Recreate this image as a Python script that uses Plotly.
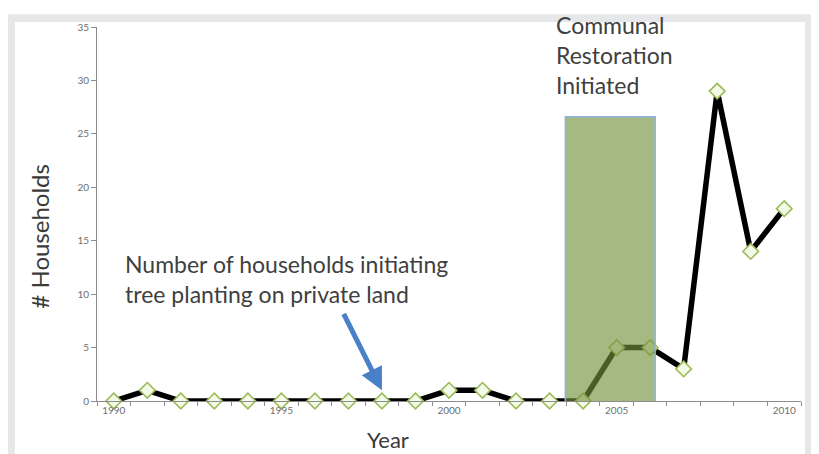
import plotly.graph_objects as go

years = list(range(1990, 2011))
households = [0, 1, 0, 0, 0, 0, 0, 0, 0, 0, 1, 1, 0, 0, 0, 5, 5, 3, 29, 14, 18]
x_tick_labels = [1990, 1995, 2000, 2005, 2010]
y_tick_values = [0, 5, 10, 15, 20, 25, 30, 35]
restoration_span = [2003.47, 2006.15]
restoration_height = [-0.3, 26.6]
arrow_target = [1998, 1.0]

FONT = "Lato"
OFF = 8  # page body margin offset
W, H = 819 - OFF, 454 - OFF
L, R, T, B = 97 - OFF, 18, 21 - OFF, 53
pw, ph = W - L - R, H - T - B


def px(x):
    # x in window pixels -> paper fraction
    return (x - OFF - L) / pw


def py(y):
    return (H - B - (y - OFF)) / ph


fig = go.Figure()
fig.add_trace(go.Scatter(
    x=years, y=households, mode="lines+markers",
    line=dict(color="black", width=5.5),
    marker=dict(symbol="diamond", size=12, color="#f4fae8",
                line=dict(color="#9bbb59", width=1.6)),
    cliponaxis=False, showlegend=False, hoverinfo="x+y",
))

shapes = [
    dict(type="rect", xref="paper", yref="paper", x0=px(0), x1=px(840),
         y0=py(8), y1=py(470), fillcolor="#e6e7e9", line=dict(width=0), layer="below"),
    dict(type="rect", xref="paper", yref="paper", x0=px(15), x1=px(805),
         y0=py(16), y1=py(470), fillcolor="white", line=dict(width=0), layer="below"),
    dict(type="rect", xref="x", yref="y",
         x0=restoration_span[0], x1=restoration_span[1],
         y0=restoration_height[0], y1=restoration_height[1],
         fillcolor="rgba(118,146,60,0.64)", line=dict(color="#8db3e2", width=1.5),
         layer="above"),
]

annotations = [
    dict(text="# Households", xref="paper", yref="paper", x=px(40), y=py(234),
         textangle=-90, showarrow=False, font=dict(family=FONT, size=24, color="#3a3a3a"),
         xanchor="center", yanchor="middle"),
    dict(text="Year", xref="paper", yref="paper", x=px(388), y=py(440),
         showarrow=False, font=dict(family=FONT, size=22, color="#3a3a3a"),
         xanchor="center", yanchor="middle"),
    dict(text="Communal<br>Restoration<br>Initiated", xref="paper", yref="paper",
         x=px(554), y=py(3), xanchor="left", yanchor="top", align="left",
         showarrow=False, font=dict(family=FONT, size=23, color="#404040")),
    dict(text="Number of households initiating<br>tree planting on private land",
         xref="paper", yref="paper", x=px(123), y=py(246), xanchor="left", yanchor="top",
         align="left", showarrow=False, font=dict(family=FONT, size=23, color="#404040")),
    dict(text="", x=arrow_target[0], y=arrow_target[1], xref="x", yref="y",
         showarrow=True, ax=-39, ay=-78, arrowhead=2, arrowsize=0.9,
         arrowwidth=5, arrowcolor="#4a80c8"),
]

fig.update_layout(
    width=W, height=H,
    margin=dict(l=L, r=R, t=T, b=B, pad=0),
    paper_bgcolor="white", plot_bgcolor="rgba(0,0,0,0)",
    shapes=shapes, annotations=annotations,
    showlegend=False,
    xaxis=dict(range=[1989.5, 2010.5], tickvals=x_tick_labels,
               ticktext=[str(v) for v in x_tick_labels], ticks="", showgrid=False,
               zeroline=False, showline=True, linecolor="#8c8c8c", linewidth=1,
               tickfont=dict(family=FONT, size=10, color="#6e6e6e"),
               minor=dict(tickvals=[y - 0.5 for y in years] + [2010.5], ticks="outside",
                          ticklen=4, tickcolor="#8c8c8c", showgrid=False)),
    yaxis=dict(range=[0, 35], tickvals=y_tick_values, ticks="outside", ticklen=5,
               tickcolor="#8c8c8c", showgrid=False, zeroline=False, showline=True,
               linecolor="#8c8c8c", linewidth=1,
               tickfont=dict(family=FONT, size=10, color="#6e6e6e")),
)

fig.write_html("out.html")
